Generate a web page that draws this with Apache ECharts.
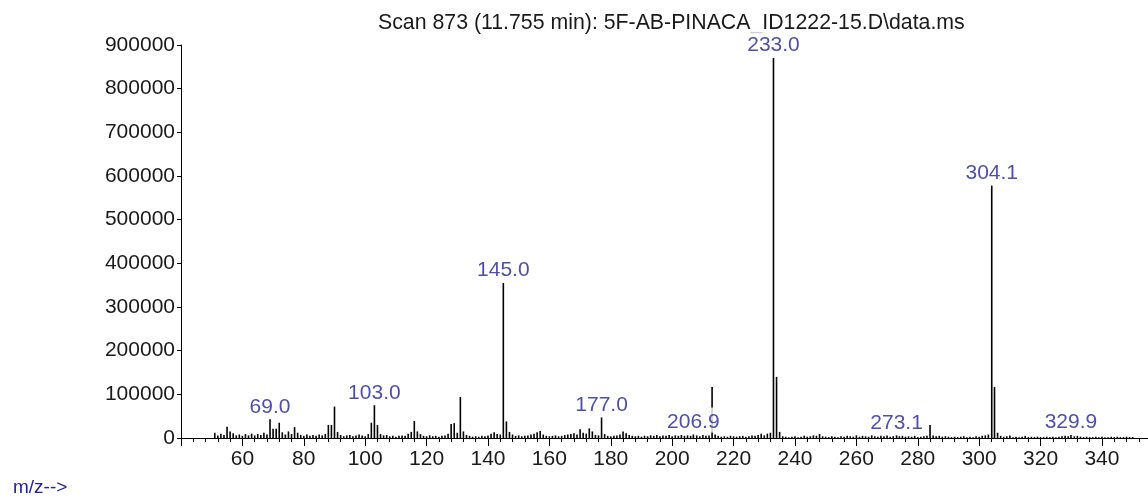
<!DOCTYPE html>
<html>
<head>
<meta charset="utf-8">
<script src="https://cdn.jsdelivr.net/npm/echarts@6/dist/echarts.min.js"></script>
<style>html,body{margin:0;padding:0;background:#fff;}#c{width:1148px;height:497px;}</style>
</head>
<body>
<div id="c"></div>
<script>
var titleText = "Scan 873 (11.755 min): 5F-AB-PINACA_ID1222-15.D\\data.ms";
var axisUnitText = "m/z-->";
var yTicks = [0, 100000, 200000, 300000, 400000, 500000, 600000, 700000, 800000, 900000];
var xTickLabels = [60, 80, 100, 120, 140, 160, 180, 200, 220, 240, 260, 280, 300, 320, 340];

var mz = [
 51,52,53,54,55,56,57,58,59,60,61,62,63,64,65,66,67,68,69,70,
 71,72,73,74,75,76,77,78,79,80,81,82,83,84,85,86,87,88,89,90,
 91,92,93,94,95,96,97,98,99,100,101,102,103,104,105,106,107,108,109,110,
 111,112,113,114,115,116,117,118,119,120,121,122,123,124,125,126,127,128,129,130,
 131,132,133,134,135,136,137,138,139,140,141,142,143,144,145,146,147,148,149,150,
 151,152,153,154,155,156,157,158,159,160,161,162,163,164,165,166,167,168,169,170,
 171,172,173,174,175,176,177,178,179,180,181,182,183,184,185,186,187,188,189,190,
 191,192,193,194,195,196,197,198,199,200,201,202,203,204,205,206,206.9,208,209,210,
 211,212,213,214,215,216,217,218,219,220,221,222,223,224,225,226,227,228,229,230,
 231,232,233,234,235,236,237,238,239,240,241,242,243,244,245,246,247,248,249,250,
 251,252,253,254,255,256,257,258,259,260,261,262,263,264,265,266,267,268,269,270,
 271,272,273.1,274,275,276,277,278,279,280,281,282,283,284,285,286,287,288,289,290,
 291,292,293,294,295,296,297,298,299,300,301,302,303,304.1,305,306,307,308,309,310,
 311,312,313,314,315,316,317,318,319,320,321,322,323,324,325,326,327,328,329,329.9,
 331,332,333,334,335,336,337,338,339,340,341,342,343,344,345,346,347,348,349,350
];
var abundance = [
 12000,6000,10000,7000,26000,15000,11000,6000,8000,5000,9000,6000,10000,6000,9000,7000,12000,8000,43000,21000,
 21000,35000,13000,8000,15000,9000,25000,12000,7000,5000,8000,5000,7000,5000,8000,6000,9000,30000,30000,72000,
 14000,7000,4000,6000,7000,4000,6000,8000,6000,4000,9000,35000,75000,30000,9000,6000,7000,4000,5000,3000,
 5000,6000,5000,10000,14000,39000,15000,9000,5000,4000,6000,4000,5000,3000,5000,6000,10000,32000,34000,12000,
 94000,15000,7000,5000,3000,4000,3000,5000,4000,6000,10000,13000,9000,8000,355000,38000,14000,8000,5000,6000,
 4000,5000,6000,8000,10000,13000,16000,8000,5000,4000,5000,6000,4000,5000,7000,8000,9000,11000,8000,20000,
 12000,10000,22000,15000,7000,6000,47000,9000,5000,4000,5000,6000,8000,15000,11000,7000,5000,4000,5000,3000,
 5000,4000,6000,5000,7000,4000,6000,5000,7000,4000,6000,5000,7000,5000,6000,5000,8000,6000,4000,7000,
 5000,6000,117000,8000,5000,3000,4000,3000,5000,4000,3000,4000,5000,3000,4000,6000,5000,7000,10000,6000,
 10000,12000,870000,140000,14000,4000,3000,2000,3000,4000,2000,3000,5000,3000,4000,6000,5000,9000,4000,3000,
 2000,4000,3000,2000,4000,3000,5000,4000,3000,6000,3000,5000,4000,3000,6000,4000,3000,5000,4000,6000,
 3000,4000,6000,4000,5000,3000,4000,3000,5000,2000,3000,4000,5000,30000,6000,4000,5000,3000,4000,3000,
 2000,3000,2000,3000,4000,2000,3000,2000,4000,3000,5000,6000,8000,578000,117000,12000,5000,3000,4000,6000,
 2000,3000,2000,3000,5000,2000,3000,2000,3000,2000,2000,3000,2000,3000,2000,3000,4000,5000,4000,7000,
 4000,5000,3000,2000,3000,2000,2000,3000,2000,3000,2000,2000,3000,2000,3000,2000,2000,3000,2000,2000
];
var labeledMz = [69.0, 103.0, 145.0, 177.0, 206.9, 233.0, 273.1, 304.1, 329.9];

var FONT = "'Liberation Sans', Arial, sans-serif";
var barData = mz.map(function (m, i) { return [m, abundance[i]]; });
var labelData = labeledMz.map(function (m) {
  var idx = mz.indexOf(m);
  return [m, abundance[idx]];
});

var chart = echarts.init(document.getElementById('c'), null, {renderer: 'canvas'});
chart.setOption({
  animation: false,
  backgroundColor: '#fff',
  title: {
    text: titleText,
    left: 378, top: 13, padding: 0,
    textStyle: {fontFamily: FONT, fontSize: 21.3, fontWeight: 'normal', color: '#1a1a1a'}
  },
  graphic: [{
    type: 'text', left: 13, top: 478,
    style: {text: axisUnitText, fontFamily: FONT, fontSize: 19, fill: '#22229c'}
  }],
  grid: {left: 181, right: 0, top: 45, bottom: 59, containLabel: false},
  xAxis: {
    type: 'value', min: 40, max: 355, interval: 20,
    axisLine: {show: true, onZero: false, lineStyle: {color: '#000', width: 1}},
    axisTick: {show: true, length: 8, lineStyle: {color: '#000'}},
    minorTick: {show: true, splitNumber: 5, length: 4, lineStyle: {color: '#000'}},
    splitLine: {show: false},
    axisLabel: {
      show: true, margin: 11, color: '#1a1a1a', fontFamily: FONT, fontSize: 21,
      showMinLabel: false, showMaxLabel: false,
      formatter: function (v) { return xTickLabels.indexOf(v) >= 0 ? String(v) : ''; }
    }
  },
  yAxis: {
    type: 'value', min: yTicks[0], max: yTicks[yTicks.length - 1], interval: 100000,
    axisLine: {show: true, lineStyle: {color: '#000', width: 1}},
    axisTick: {show: true, length: 4, lineStyle: {color: '#000'}},
    splitLine: {show: false},
    axisLabel: {margin: 6, color: '#1a1a1a', fontFamily: FONT, fontSize: 21,
      formatter: function (v) { return String(v); }}
  },
  series: [{
    type: 'bar',
    data: barData,
    barWidth: 1.6,
    itemStyle: {color: '#000'},
    silent: true,
    z: 2
  }, {
    type: 'scatter',
    data: labelData,
    symbolSize: 0,
    silent: true,
    z: 10,
    label: {
      show: true, position: 'top', distance: 2,
      formatter: function (p) { return p.value[0].toFixed(1); },
      color: '#22229c', fontFamily: FONT, fontSize: 21,
      backgroundColor: '#fff', padding: [4, 1, 0, 1]
    }
  }]
});
</script>
</body>
</html>
